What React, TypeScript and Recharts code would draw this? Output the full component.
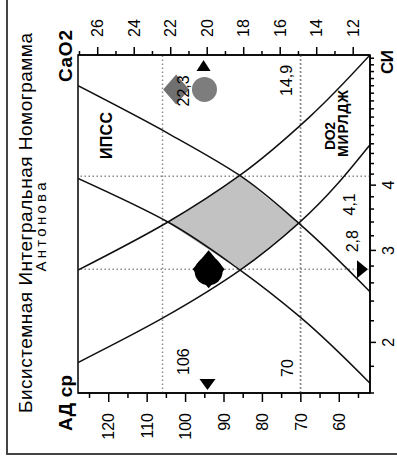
import React from "react";
import {
  Area,
  ComposedChart,
  Line,
  ReferenceArea,
  ReferenceLine,
  Scatter,
  XAxis,
  YAxis,
} from "recharts";

const FONT = "'Liberation Sans', Arial, sans-serif";

// axes
const siTicks = [1.6, 1.8, 2, 2.2, 2.4, 2.6, 2.8, 3, 3.2, 3.4, 3.6, 3.8, 4, 4.2, 4.4, 4.6, 4.8, 5, 5.2, 5.4, 5.6, 5.8, 6, 6.2, 6.4, 6.6, 6.8, 7];
const siLabelled = [2, 3, 4];
const adTicks = [55, 60, 65, 70, 75, 80, 85, 90, 95, 100, 105, 110, 115, 120, 125];
const adLabelled = [60, 70, 80, 90, 100, 110, 120];
const caoTicks = [12, 13, 14, 15, 16, 17, 18, 19, 20, 21, 22, 23, 24, 25, 26, 27];
const caoLabelled = [12, 14, 16, 18, 20, 22, 24, 26];

// nomogram curves
const ipssLow = [
  { si: 2.5, ad: 52 },
  { si: 3.38, ad: 70.5 },
  { si: 4.18, ad: 86 },
  { si: 5.0, ad: 104 },
  { si: 6.2, ad: 128 },
];
const ipssHigh = [
  { si: 1.67, ad: 52 },
  { si: 2.23, ad: 70 },
  { si: 2.75, ad: 85.8 },
  { si: 3.4, ad: 104.6 },
  { si: 4.12, ad: 128 },
];
const do2Low = [
  { si: 1.83, cao2: 27.08 },
  { si: 2.23, cao2: 22.4 },
  { si: 2.75, cao2: 18.2 },
  { si: 3.38, cao2: 15.0 },
  { si: 4.78, cao2: 11.08 },
];
const do2High = [
  { si: 2.75, cao2: 27.08 },
  { si: 3.4, cao2: 22.15 },
  { si: 4.18, cao2: 18.2 },
  { si: 5.4, cao2: 14.4 },
  { si: 7.1, cao2: 11.08 },
];

// grey norm zone, АД units
const normZone = [
  { si: 2.75, range: [85.8, 85.8] },
  { si: 3.0, range: [79.4, 93.6] },
  { si: 3.39, range: [70.6, 104.6] },
  { si: 3.8, range: [79.1, 94.2] },
  { si: 4.18, range: [85.8, 85.8] },
];

// limits
const adLimits = [106, 70];
const adLimitLabels = ["106", "70"];
const cao2Limit = 14.9;
const cao2LimitLabel = "14,9";
const siLimits = [2.76, 4.16];
const siLimitLabels = ["2,8", "4,1"];

// patient / target points
const patientAd = [{ si: 2.76, ad: 94 }];
const patientCao2 = [{ si: 6.1, cao2: 20.15 }];
const targetCao2 = [{ si: 6.1, cao2: 21.7, label: "22,3" }];
const adMarker = [{ si: 1.6, ad: 94.3 }];
const caoMarker = [{ si: 7.1, cao2: 20.2 }];
const siMarker = [{ si: 2.76, ad: 52 }];

const adTick = (props: any) => {
  const { x, y, payload } = props;
  const v = payload.value;
  const major = adLabelled.includes(v);
  return (
    <g>
      <line x1={x} x2={x - (major ? 9 : 5)} y1={y} y2={y} stroke="#000" strokeWidth={1.5} />
      {major && (
        <text x={x - 20} y={y} dy="0.36em" textAnchor="end" fontSize={16} fontFamily={FONT} fill="#000">
          {v}
        </text>
      )}
    </g>
  );
};

const caoTick = (props: any) => {
  const { x, y, payload } = props;
  const v = payload.value;
  const major = caoLabelled.includes(v);
  return (
    <g>
      <line x1={x} x2={x + (major ? 8 : 4)} y1={y} y2={y} stroke="#000" strokeWidth={1.5} />
      {major && (
        <text x={x + 18} y={y} dy="0.36em" textAnchor="start" fontSize={16} fontFamily={FONT} fill="#000">
          {v}
        </text>
      )}
    </g>
  );
};

const siTick = (props: any) => {
  const { x, y, payload } = props;
  const v = payload.value;
  const major = siLabelled.includes(v);
  return (
    <g>
      <line x1={x} x2={x} y1={y} y2={y + (major ? 6 : 4)} stroke="#000" strokeWidth={1.5} />
      {major && (
        <text x={x} y={y + 24} textAnchor="middle" fontSize={16} fontFamily={FONT} fill="#000">
          {v}
        </text>
      )}
    </g>
  );
};

const diamond = (cx: number, cy: number, rx: number, ry: number) =>
  `M${cx - rx},${cy} L${cx},${cy - ry} L${cx + rx},${cy} L${cx},${cy + ry} Z`;

const PatientShape = (p: any) => (
  <g>
    <path d={diamond(p.cx, p.cy, 19, 16)} fill="#000" />
    <circle cx={p.cx - 2} cy={p.cy} r={14} fill="#000" />
  </g>
);

const GreyCircle = (p: any) => <circle cx={p.cx} cy={p.cy} r={12.5} fill="#7d7d7d" />;

const GreyDiamond = (p: any) => (
  <g>
    <path d={diamond(p.cx, p.cy, 15, 13)} fill="#707070" />
    <text x={p.cx - 17} y={p.cy + 13} fontSize={16} fontFamily={FONT} fill="#000">
      {p.payload.label}
    </text>
  </g>
);

const LeftTri = (p: any) => (
  <path d={`M${p.cx + 3},${p.cy} L${p.cx + 14},${p.cy - 8} L${p.cx + 14},${p.cy + 8} Z`} fill="#000" />
);
const RightTri = (p: any) => (
  <path d={`M${p.cx - 5},${p.cy} L${p.cx - 16},${p.cy - 7} L${p.cx - 16},${p.cy + 7} Z`} fill="#000" />
);
const DownTri = (p: any) => (
  <path d={`M${p.cx},${p.cy - 2} L${p.cx - 9},${p.cy - 13} L${p.cx + 9},${p.cy - 13} Z`} fill="#000" />
);

const dotted = { stroke: "#8a8a8a", strokeWidth: 1.5, strokeDasharray: "1.5 2.5" };

const hLabel = (text: string, dx: number, dy: number) => (props: any) => {
  const vb = props.viewBox || {};
  return (
    <text x={vb.x + dx} y={vb.y + dy} fontSize={16} fontFamily={FONT} fill="#000">
      {text}
    </text>
  );
};

const vLabel = (text: string, dx: number, fromBottom: number, anchor: string) => (props: any) => {
  const vb = props.viewBox || {};
  return (
    <text x={vb.x + dx} y={vb.y + vb.height - fromBottom} textAnchor={anchor} fontSize={16} fontFamily={FONT} fill="#000">
      {text}
    </text>
  );
};

function Nomogram() {
  return (
    <ComposedChart width={457} height={397} margin={{ top: 78, right: 0, bottom: 0, left: 0 }}>
      <XAxis
        dataKey="si"
        type="number"
        scale="log"
        domain={[1.6, 7.1]}
        ticks={siTicks}
        interval={0}
        allowDataOverflow
        height={27}
        tickSize={0}
        tickMargin={0}
        tickLine={false}
        tick={siTick}
        axisLine={{ stroke: "#000", strokeWidth: 1.5 }}
      />
      <YAxis
        yAxisId="ad"
        type="number"
        domain={[52, 128]}
        ticks={adTicks}
        interval={0}
        allowDataOverflow
        width={64}
        tickSize={0}
        tickMargin={0}
        tickLine={false}
        tick={adTick}
        axisLine={{ stroke: "#000", strokeWidth: 1.5 }}
      />
      <YAxis
        yAxisId="cao2"
        orientation="right"
        type="number"
        domain={[11.08, 27.08]}
        ticks={caoTicks}
        interval={0}
        allowDataOverflow
        width={55}
        tickSize={0}
        tickMargin={0}
        tickLine={false}
        tick={caoTick}
        axisLine={{ stroke: "#000", strokeWidth: 1.5 }}
      />

      <Area
        data={normZone}
        dataKey="range"
        yAxisId="ad"
        type="linear"
        fill="#c2c2c2"
        fillOpacity={1}
        stroke="none"
        isAnimationActive={false}
      />

      <ReferenceLine yAxisId="ad" y={adLimits[0]} {...dotted} label={hLabel(adLimitLabels[0], 18, 26)} />
      <ReferenceLine yAxisId="ad" y={adLimits[1]} {...dotted} label={hLabel(adLimitLabels[1], 16, -8)} />
      <ReferenceLine yAxisId="cao2" y={cao2Limit} {...dotted} label={hLabel(cao2LimitLabel, 297, -8)} />
      <ReferenceLine yAxisId="ad" x={siLimits[0]} {...dotted} label={vLabel(siLimitLabels[0], 17, 12, "start")} />
      <ReferenceLine yAxisId="ad" x={siLimits[1]} {...dotted} label={vLabel(siLimitLabels[1], -17, 15, "end")} />

      <Line data={ipssLow} dataKey="ad" yAxisId="ad" type="monotone" stroke="#111" strokeWidth={1.5} dot={false} isAnimationActive={false} />
      <Line data={ipssHigh} dataKey="ad" yAxisId="ad" type="monotone" stroke="#111" strokeWidth={1.5} dot={false} isAnimationActive={false} />
      <Line data={do2Low} dataKey="cao2" yAxisId="cao2" type="monotone" stroke="#111" strokeWidth={1.5} dot={false} isAnimationActive={false} />
      <Line data={do2High} dataKey="cao2" yAxisId="cao2" type="monotone" stroke="#111" strokeWidth={1.5} dot={false} isAnimationActive={false} />

      <Scatter data={targetCao2} dataKey="cao2" yAxisId="cao2" shape={GreyDiamond} isAnimationActive={false} />
      <Scatter data={patientCao2} dataKey="cao2" yAxisId="cao2" shape={GreyCircle} isAnimationActive={false} />
      <Scatter data={patientAd} dataKey="ad" yAxisId="ad" shape={PatientShape} isAnimationActive={false} />
      <Scatter data={adMarker} dataKey="ad" yAxisId="ad" shape={LeftTri} isAnimationActive={false} />
      <Scatter data={caoMarker} dataKey="cao2" yAxisId="cao2" shape={RightTri} isAnimationActive={false} />
      <Scatter data={siMarker} dataKey="ad" yAxisId="ad" shape={DownTri} isAnimationActive={false} />

      <ReferenceArea yAxisId="ad" x1={1.6} x2={7.1} y1={52} y2={128} fill="none" stroke="#000" strokeWidth={1.5} />
    </ComposedChart>
  );
}

export default function App() {
  return (
    <div style={{ position: "fixed", left: 0, top: 0, width: 397, height: 457, background: "#fff", overflow: "hidden" }}>
      <div
        style={{
          position: "absolute",
          left: 6,
          top: 0,
          width: 391,
          height: 455,
          borderLeft: "2px solid #444",
          borderBottom: "2px solid #444",
          boxSizing: "border-box",
        }}
      />
      <div
        style={{
          position: "absolute",
          left: 0,
          top: 0,
          width: 457,
          height: 397,
          transform: "translateY(457px) rotate(-90deg)",
          transformOrigin: "0 0",
          fontFamily: FONT,
        }}
      >
        <Nomogram />
        <svg width={457} height={397} style={{ position: "absolute", left: 0, top: 0, pointerEvents: "none" }}>
          <g fontFamily={FONT} fill="#000">
            <text x={234} y={32} fontSize={19} textAnchor="middle" textLength={380} lengthAdjust="spacing">
              Бисистемная Интегральная Номограмма
            </text>
            <text x={230} y={46} fontSize={15} textAnchor="middle" textLength={89} lengthAdjust="spacing">
              Антонова
            </text>
            <text x={26} y={72} fontSize={19} fontWeight="bold" textLength={56}>
              АД ср
            </text>
            <text x={375} y={72} fontSize={19} fontWeight="bold" textLength={52}>
              CaO2
            </text>
            <text x={383} y={393} fontSize={17} fontWeight="bold" textLength={24}>
              СИ
            </text>
            <text x={298} y={112} fontSize={16} fontWeight="bold" textLength={47}>
              ИПСС
            </text>
            <text x={307} y={335} fontSize={14} fontWeight="bold" textLength={28}>
              DO2
            </text>
            <text x={300} y={348} fontSize={14} fontWeight="bold" textLength={67}>
              МИРЛДЖ
            </text>
          </g>
        </svg>
      </div>
    </div>
  );
}
